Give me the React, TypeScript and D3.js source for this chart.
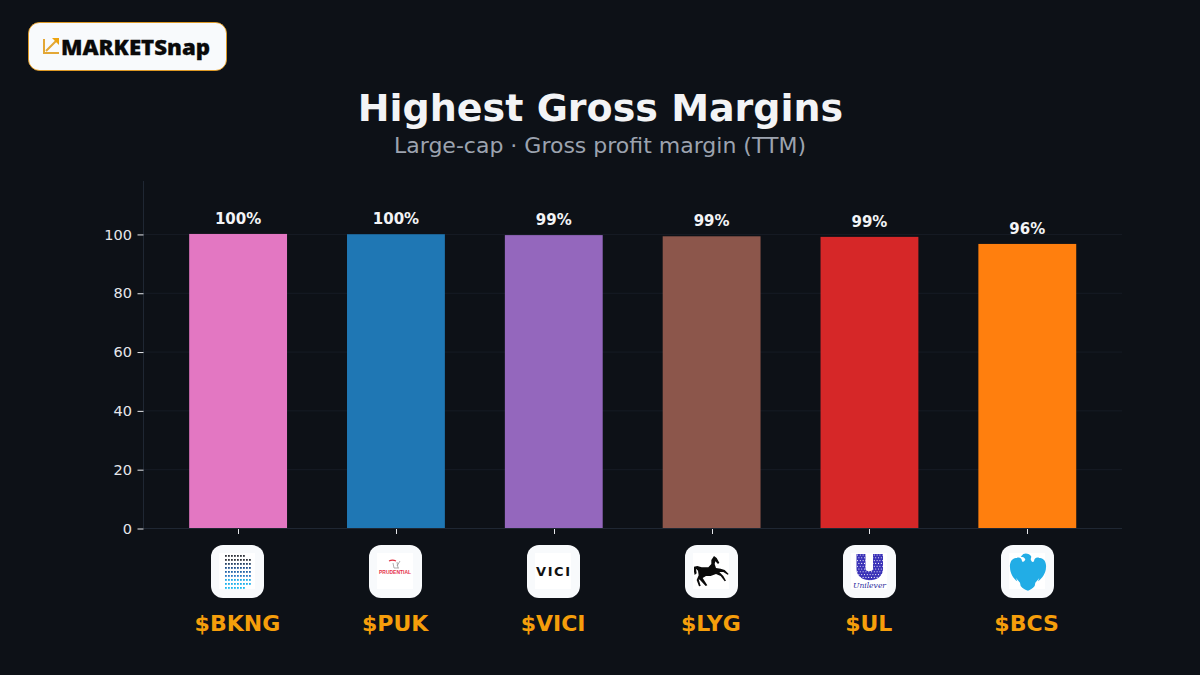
import * as d3 from "d3";
import { useEffect, useRef } from "react";

const tickers = ["$BKNG", "$PUK", "$VICI", "$LYG", "$UL", "$BCS"];
const margins = [100, 99.9, 99.6, 99.2, 99, 96.6];
const labels = ["100%", "100%", "99%", "99%", "99%", "96%"];
const barColors = ["#e377c2", "#1f77b4", "#9467bd", "#8c564b", "#d62728", "#ff7f0e"];
const yTicks = [0, 20, 40, 60, 80, 100];

const BG = "#0d1117";
const GRID = "#161c25";
const SPINE = "#1f2733";
const FONT = "'DejaVu Sans', sans-serif";

const W = 1200;
const H = 675;

// logo outlines, traced at 3x and scaled back down when drawn
const horsePath =
  "M72 18 L80 24 L88 38 L84 42 L76 34 L74 42 L78 54 L92 56 L104 60 L116 72 L113 74 L100 66 L88 66 L100 78 L108 92 L104 94 L92 78 L78 72 L62 78 L48 78 L38 84 L52 106 L47 108 L30 90 L26 88 L32 108 L27 109 L20 90 L26 76 L24 62 L18 56 L20 70 L14 75 L12 65 L12 50 L22 48 L35 52 L55 52 L64 42 L64 30 Z";
const eaglePath =
  "M52 12 C60 8 72 12 76 20 L74 28 C76 35 80 38 84 34 C84 26 92 20 100 24 C112 22 122 36 120 52 C120 70 108 86 96 94 L100 84 L88 98 L86 108 C80 116 72 120 66 122 C58 120 50 116 44 108 L42 98 L30 84 L34 94 C22 86 12 70 12 52 C10 36 20 22 32 24 C40 20 48 26 48 34 C52 38 56 34 58 28 C56 22 50 20 44 20 Z";
const uPath = "M5.5 1 H14.5 V16 C14.5 19 22 19 22 16 V1 H32 V16 C32 31 5.5 31 5.5 16 Z";

export default function App() {
  const ref = useRef<SVGSVGElement | null>(null);

  useEffect(() => {
    const svg = d3.select(ref.current);
    svg.selectAll("*").remove();

    const x = d3.scaleLinear().domain([-0.6, 5.6]).range([143.4, 1122]);
    const y = d3.scaleLinear().domain([0, 118]).range([528, 181]);
    const barWidth = x(0.62) - x(0);

    svg.append("rect").attr("width", W).attr("height", H).attr("fill", BG);

    // header badge
    const badge = svg.append("g");
    badge
      .append("rect")
      .attr("x", 28.5)
      .attr("y", 22.5)
      .attr("width", 198)
      .attr("height", 48)
      .attr("rx", 11)
      .attr("fill", "#f8fafc")
      .attr("stroke", "#f59e0b")
      .attr("stroke-width", 0.8);
    badge
      .append("path")
      .attr("d", "M44 39 V53 H59 M46 51 L56 41")
      .attr("fill", "none")
      .attr("stroke", "#e3a735")
      .attr("stroke-width", 2);
    badge.append("path").attr("d", "M59 38 V45 L52 38 Z").attr("fill", "#eda40f");
    badge
      .append("text")
      .attr("x", 61)
      .attr("y", 55)
      .attr("font-family", "'Open Sans', sans-serif")
      .attr("font-weight", 800)
      .attr("font-size", 21)
      .attr("textLength", 149)
      .attr("lengthAdjust", "spacingAndGlyphs")
      .attr("stroke", "#0a0a0a")
      .attr("stroke-width", 0.3)
      .attr("fill", "#0a0a0a")
      .text("MARKETSnap");

    svg
      .append("text")
      .attr("x", 600.5)
      .attr("y", 121)
      .attr("text-anchor", "middle")
      .attr("font-family", FONT)
      .attr("font-weight", 700)
      .attr("font-size", 38)
      .attr("fill", "#f3f4f6")
      .text("Highest Gross Margins");
    svg
      .append("text")
      .attr("x", 600)
      .attr("y", 153)
      .attr("text-anchor", "middle")
      .attr("font-family", FONT)
      .attr("font-size", 22)
      .attr("fill", "#9ca3af")
      .text("Large-cap · Gross profit margin (TTM)");

    // grid
    svg
      .append("g")
      .selectAll("line")
      .data(yTicks.slice(1))
      .join("line")
      .attr("x1", 143)
      .attr("x2", 1122)
      .attr("y1", (d) => y(d) + 0.5)
      .attr("y2", (d) => y(d) + 0.5)
      .attr("stroke", GRID);

    // bars
    svg
      .append("g")
      .selectAll("rect")
      .data(margins)
      .join("rect")
      .attr("x", (_, i) => x(i) - barWidth / 2)
      .attr("y", (d) => y(d))
      .attr("width", barWidth)
      .attr("height", (d) => y(0) - y(d))
      .attr("fill", (_, i) => barColors[i]);

    // spines
    svg
      .append("path")
      .attr("d", "M143.5 181 V528.5 H1122")
      .attr("fill", "none")
      .attr("stroke", SPINE);

    // y axis
    const yAxis = svg
      .append("g")
      .attr("transform", "translate(143.5,0.5)")
      .call(d3.axisLeft(y).tickValues(yTicks).tickSize(6).tickPadding(5.5));
    yAxis.select(".domain").remove();
    yAxis.selectAll("line").attr("stroke", "#e5e7eb");
    yAxis
      .selectAll("text")
      .attr("font-family", FONT)
      .attr("font-size", 14.5)
      .attr("fill", "#e5e7eb");

    // x ticks
    svg
      .append("g")
      .selectAll("line")
      .data(tickers)
      .join("line")
      .attr("x1", (_, i) => Math.round(x(i)) + 0.5)
      .attr("x2", (_, i) => Math.round(x(i)) + 0.5)
      .attr("y1", 529)
      .attr("y2", 534)
      .attr("stroke", "#e5e7eb");

    // value labels
    svg
      .append("g")
      .selectAll("text")
      .data(labels)
      .join("text")
      .attr("x", (_, i) => x(i))
      .attr("y", (_, i) => y(margins[i]) - 10)
      .attr("text-anchor", "middle")
      .attr("font-family", FONT)
      .attr("font-weight", 700)
      .attr("font-size", 15)
      .attr("fill", "#f3f4f6")
      .text((d) => d);

    // ticker labels
    svg
      .append("g")
      .selectAll("text")
      .data(tickers)
      .join("text")
      .attr("x", (_, i) => x(i) - 0.7)
      .attr("y", 631)
      .attr("text-anchor", "middle")
      .attr("font-family", FONT)
      .attr("font-weight", 700)
      .attr("font-size", 22)
      .attr("fill", "#f59e0b")
      .text((d) => d);

    // logo cards
    const cardLeft = (i: number) => Math.round(x(i) - 26.7);
    const cards = svg
      .append("g")
      .selectAll("g")
      .data(tickers)
      .join("g")
      .attr("transform", (_, i) => `translate(${cardLeft(i)},545)`);
    cards
      .append("rect")
      .attr("width", 53)
      .attr("height", 53)
      .attr("rx", 12)
      .attr("fill", "#f8fafc");
    cards
      .append("rect")
      .attr("x", 8)
      .attr("y", 8)
      .attr("width", 36)
      .attr("height", 36)
      .attr("fill", "#ffffff");

    const logo = (i: number) =>
      svg.append("g").attr("transform", `translate(${cardLeft(i) + 8},553)`);

    // BKNG dot grid
    const dots = d3
      .cross(d3.range(9), d3.range(9))
      .filter((d) => !((d[0] === 0 || d[0] === 8) && d[1] > 6));
    const dotColor = d3
      .scaleLinear<string>()
      .domain([0, 1, 3, 5, 6, 8])
      .range(["#30343c", "#30343c", "#1c4f8c", "#2a78c4", "#1fa8e6", "#19b8f0"]);
    logo(0)
      .selectAll("rect")
      .data(dots)
      .join("rect")
      .attr("x", (d) => 6 + d[1] * 3)
      .attr("y", (d) => 2 + d[0] * 4)
      .attr("width", 1.8)
      .attr("height", 1.8)
      .attr("fill", (d) => dotColor(d[0]));

    // PUK
    const puk = logo(1);
    puk
      .append("path")
      .attr("d", "M16 10 L17 15 M20 9 L21 15 M23 8 L20 13 M17 15 H22")
      .attr("fill", "none")
      .attr("stroke", "#9a9a9a")
      .attr("stroke-width", 0.8);
    puk
      .append("path")
      .attr("d", "M12 8 C14 7 17 7 19 8")
      .attr("fill", "none")
      .attr("stroke", "#e0303f")
      .attr("stroke-width", 1.1);
    puk
      .append("text")
      .attr("x", 18)
      .attr("y", 20.5)
      .attr("text-anchor", "middle")
      .attr("font-family", "'Liberation Sans', sans-serif")
      .attr("font-weight", 700)
      .attr("font-size", 6)
      .attr("textLength", 32)
      .attr("lengthAdjust", "spacingAndGlyphs")
      .attr("fill", "#e5304a")
      .text("PRUDENTIAL");

    // VICI
    logo(2)
      .append("text")
      .attr("x", 18)
      .attr("y", 23)
      .attr("text-anchor", "middle")
      .attr("font-family", FONT)
      .attr("font-weight", 700)
      .attr("font-size", 13)
      .attr("textLength", 34)
      .attr("lengthAdjust", "spacing")
      .attr("fill", "#111111")
      .text("VICI");

    // LYG horse
    logo(3)
      .append("path")
      .attr("transform", "translate(-3,-3) scale(0.3333)")
      .attr("d", horsePath)
      .attr("fill", "#0a0a0a");

    // UL stippled U
    const ul = logo(4);
    ul.append("path").attr("d", uPath).attr("fill", "#3a32b8");
    ul.append("g")
      .selectAll("circle")
      .data(d3.cross(d3.range(10), d3.range(10)))
      .join("circle")
      .attr("cx", (d) => 6.5 + d[1] * 2.8 + (d[0] % 2) * 1.4)
      .attr("cy", (d) => 2 + d[0] * 2.8)
      .attr("r", 0.55)
      .attr("fill", "#ffffff");
    ul.append("text")
      .attr("x", 18.5)
      .attr("y", 34.5)
      .attr("text-anchor", "middle")
      .attr("font-family", "'DejaVu Serif', serif")
      .attr("font-style", "italic")
      .attr("font-size", 8)
      .attr("textLength", 33)
      .attr("lengthAdjust", "spacingAndGlyphs")
      .attr("fill", "#2c2a9e")
      .text("Unilever");

    // BCS eagle
    logo(5)
      .append("path")
      .attr("transform", "translate(-3,-3) scale(0.3333)")
      .attr("d", eaglePath)
      .attr("fill", "#22ade6");
  }, []);

  return (
    <svg
      ref={ref}
      width={W}
      height={H}
      style={{ position: "absolute", left: 0, top: 0, display: "block" }}
    />
  );
}
